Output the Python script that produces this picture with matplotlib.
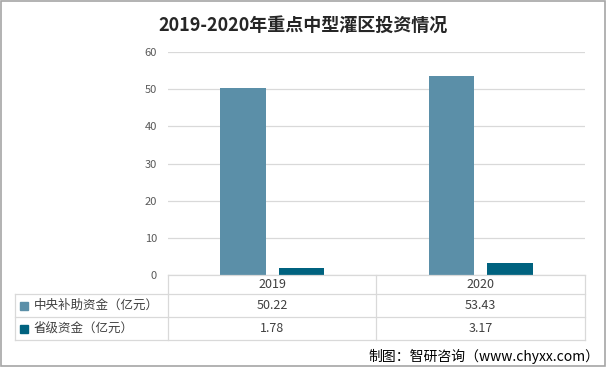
import matplotlib
matplotlib.use("Agg")
import matplotlib.pyplot as plt
from matplotlib.lines import Line2D
from matplotlib.patches import Rectangle

plt.rcParams['font.family'] = ['Noto Sans CJK SC', 'DejaVu Sans']

years = ["2019", "2020"]
central = [50.22, 53.43]
province = [1.78, 3.17]
series_names = ["中央补助资金（亿元）", "省级资金（亿元）"]
colors = ["#5B8FA8", "#00627F"]
title = "2019-2020年重点中型灌区投资情况"
source = "制图：智研咨询（www.chyxx.com）"

W, H = 606, 367
fig = plt.figure(figsize=(W / 100, H / 100), dpi=100)

def fx(px):
    return px / W

def fy(py):
    return 1 - py / H

# main plot area
ax = fig.add_axes([fx(168), fy(275), fx(585) - fx(168), fy(52) - fy(275)])
x = list(range(len(years)))
ax.bar([i - 0.14 for i in x], central, width=0.22, color=colors[0], zorder=3)
ax.bar([i + 0.14 for i in x], province, width=0.22, color=colors[1], zorder=3)
ax.set_xlim(-0.5, 1.5)
ax.set_ylim(0, 60)
ax.set_yticks(range(0, 61, 10))
ax.set_xticks([])
ax.grid(axis="y", color="#D9D9D9", linewidth=0.9, zorder=0)
for s in ax.spines.values():
    s.set_visible(False)
ax.tick_params(axis="y", length=0, pad=8, labelsize=8, labelcolor="#595959")

fig.text(0.5, fy(25), title, ha="center", va="center", fontsize=13,
         fontweight="bold", color="#262626")

# data table below the axes
grid_c = "#D9D9D9"
row_y = [275, 294, 317, 340]
col_x = [15, 168, 376, 585]
lines = [
    ((col_x[1], col_x[3]), (row_y[0], row_y[0])),
    ((col_x[0], col_x[3]), (row_y[1], row_y[1])),
    ((col_x[0], col_x[3]), (row_y[2], row_y[2])),
    ((col_x[0], col_x[3]), (row_y[3], row_y[3])),
    ((col_x[0], col_x[0]), (row_y[1], row_y[3])),
    ((col_x[1], col_x[1]), (row_y[0], row_y[3])),
    ((col_x[2], col_x[2]), (row_y[0], row_y[3])),
    ((col_x[3], col_x[3]), (row_y[0], row_y[3])),
]
for (xa, xb), (ya, yb) in lines:
    fig.add_artist(Line2D([fx(xa), fx(xb)], [fy(ya), fy(yb)], color=grid_c, linewidth=0.9))

for j, yr in enumerate(years):
    cx = (col_x[j + 1] + col_x[j + 2]) / 2
    fig.text(fx(cx), fy((row_y[0] + row_y[1]) / 2), yr, ha="center", va="center",
             fontsize=9, color="#404040")
    fig.text(fx(cx), fy((row_y[1] + row_y[2]) / 2), f"{central[j]:.2f}", ha="center",
             va="center", fontsize=9, color="#404040")
    fig.text(fx(cx), fy((row_y[2] + row_y[3]) / 2), f"{province[j]:.2f}", ha="center",
             va="center", fontsize=9, color="#404040")

for k, name in enumerate(series_names):
    cy = (row_y[k + 1] + row_y[k + 2]) / 2
    fig.add_artist(Rectangle((fx(20), fy(cy + 4)), fx(8), fy(cy - 4) - fy(cy + 4),
                             color=colors[k]))
    fig.text(fx(34), fy(cy), name, ha="left", va="center", fontsize=9, color="#404040")

fig.text(fx(599), fy(356), source, ha="right", va="center", fontsize=10, color="#000000")

# outer border
fig.add_artist(Rectangle((0.001, 0.002), 0.997, 0.995, fill=False,
                         edgecolor="#A6A6A6", linewidth=1.2))

fig.savefig("out.png", dpi=100)
